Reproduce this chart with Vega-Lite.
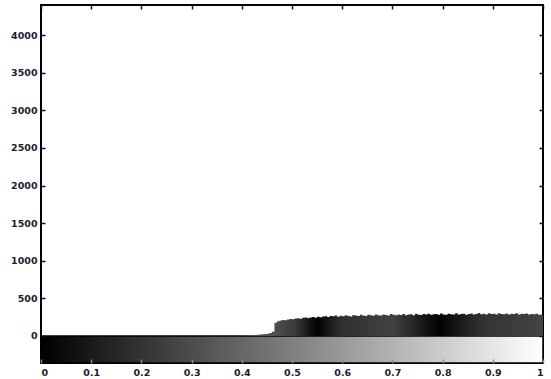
{
  "$schema": "https://vega.github.io/schema/vega-lite/v6.json",
  "width": 502,
  "height": 358,
  "autosize": "none",
  "padding": {"left": 41, "top": 5, "right": 8, "bottom": 16},
  "background": "white",
  "config": {
    "view": {"stroke": "black", "strokeWidth": 2},
    "axis": {
      "grid": false,
      "domain": false,
      "labelFont": "DejaVu Sans",
      "labelFontSize": 9.5,
      "labelFontWeight": "bold",
      "labelColor": "#1c1c30",
      "title": null
    }
  },
  "layer": [
    {
      "data": {"values": [{}]},
      "mark": {
        "type": "rect",
        "color": {
          "gradient": "linear",
          "x1": 0, "y1": 0, "x2": 1, "y2": 0,
          "stops": [
            {"offset": 0, "color": "#000000"},
            {"offset": 1, "color": "#ffffff"}
          ]
        },
        "stroke": "black",
        "strokeWidth": 1.5
      },
      "encoding": {
        "x": {
          "datum": 0,
          "type": "quantitative",
          "scale": {"domain": [0, 1], "nice": false},
          "axis": {"orient": "bottom", "values": [0, 0.1, 0.2, 0.3, 0.4, 0.5, 0.6, 0.7, 0.8, 0.9, 1], "format": "~g", "labelPadding": 4, "ticks": true, "tickSize": 4, "offset": -4, "tickColor": "#888888", "tickWidth": 1.5, "zindex": 2}
        },
        "x2": {"datum": 1},
        "y": {
          "datum": -360,
          "type": "quantitative",
          "scale": {"domain": [-360, 4400], "nice": false, "zero": false},
          "axis": {"orient": "left", "values": [0, 500, 1000, 1500, 2000, 2500, 3000, 3500, 4000], "format": "d", "labelPadding": 4, "ticks": true, "tickSize": 4, "offset": -4, "tickColor": "#111111", "tickWidth": 1.5, "zindex": 2}
        },
        "y2": {"datum": 0}
      }
    },
    {
      "data": {"values": [
        {"x": 0.400, "count": 3}, {"x": 0.405, "count": 4}, {"x": 0.410, "count": 5}, {"x": 0.415, "count": 6},
        {"x": 0.420, "count": 8}, {"x": 0.425, "count": 10}, {"x": 0.430, "count": 14}, {"x": 0.435, "count": 18},
        {"x": 0.440, "count": 22}, {"x": 0.445, "count": 25}, {"x": 0.450, "count": 30}, {"x": 0.455, "count": 38},
        {"x": 0.460, "count": 55}, {"x": 0.465, "count": 175}, {"x": 0.470, "count": 195}, {"x": 0.475, "count": 205},
        {"x": 0.480, "count": 212}, {"x": 0.485, "count": 208}, {"x": 0.490, "count": 220}, {"x": 0.495, "count": 226},
        {"x": 0.500, "count": 222}, {"x": 0.505, "count": 232}, {"x": 0.510, "count": 236}, {"x": 0.515, "count": 228},
        {"x": 0.520, "count": 240}, {"x": 0.525, "count": 244}, {"x": 0.530, "count": 238}, {"x": 0.535, "count": 246},
        {"x": 0.540, "count": 250}, {"x": 0.545, "count": 242}, {"x": 0.550, "count": 255}, {"x": 0.555, "count": 248},
        {"x": 0.560, "count": 258}, {"x": 0.565, "count": 262}, {"x": 0.570, "count": 252}, {"x": 0.575, "count": 266},
        {"x": 0.580, "count": 260}, {"x": 0.585, "count": 270}, {"x": 0.590, "count": 256}, {"x": 0.595, "count": 268},
        {"x": 0.600, "count": 262}, {"x": 0.605, "count": 274}, {"x": 0.610, "count": 266}, {"x": 0.615, "count": 258},
        {"x": 0.620, "count": 276}, {"x": 0.625, "count": 270}, {"x": 0.630, "count": 264}, {"x": 0.635, "count": 280},
        {"x": 0.640, "count": 272}, {"x": 0.645, "count": 266}, {"x": 0.650, "count": 282}, {"x": 0.655, "count": 274},
        {"x": 0.660, "count": 268}, {"x": 0.665, "count": 284}, {"x": 0.670, "count": 276}, {"x": 0.675, "count": 270},
        {"x": 0.680, "count": 286}, {"x": 0.685, "count": 278}, {"x": 0.690, "count": 272}, {"x": 0.695, "count": 290},
        {"x": 0.700, "count": 280}, {"x": 0.705, "count": 274}, {"x": 0.710, "count": 286}, {"x": 0.715, "count": 278},
        {"x": 0.720, "count": 292}, {"x": 0.725, "count": 276}, {"x": 0.730, "count": 284}, {"x": 0.735, "count": 288},
        {"x": 0.740, "count": 274}, {"x": 0.745, "count": 294}, {"x": 0.750, "count": 282}, {"x": 0.755, "count": 278},
        {"x": 0.760, "count": 290}, {"x": 0.765, "count": 284}, {"x": 0.770, "count": 296}, {"x": 0.775, "count": 280},
        {"x": 0.780, "count": 288}, {"x": 0.785, "count": 292}, {"x": 0.790, "count": 282}, {"x": 0.795, "count": 298},
        {"x": 0.800, "count": 286}, {"x": 0.805, "count": 280}, {"x": 0.810, "count": 294}, {"x": 0.815, "count": 288},
        {"x": 0.820, "count": 284}, {"x": 0.825, "count": 300}, {"x": 0.830, "count": 286}, {"x": 0.835, "count": 290},
        {"x": 0.840, "count": 296}, {"x": 0.845, "count": 282}, {"x": 0.850, "count": 292}, {"x": 0.855, "count": 298},
        {"x": 0.860, "count": 286}, {"x": 0.865, "count": 290}, {"x": 0.870, "count": 304}, {"x": 0.875, "count": 288},
        {"x": 0.880, "count": 294}, {"x": 0.885, "count": 284}, {"x": 0.890, "count": 300}, {"x": 0.895, "count": 290},
        {"x": 0.900, "count": 296}, {"x": 0.905, "count": 286}, {"x": 0.910, "count": 302}, {"x": 0.915, "count": 292},
        {"x": 0.920, "count": 288}, {"x": 0.925, "count": 298}, {"x": 0.930, "count": 284}, {"x": 0.935, "count": 296},
        {"x": 0.940, "count": 290}, {"x": 0.945, "count": 302}, {"x": 0.950, "count": 286}, {"x": 0.955, "count": 294},
        {"x": 0.960, "count": 290}, {"x": 0.965, "count": 298}, {"x": 0.970, "count": 284}, {"x": 0.975, "count": 292},
        {"x": 0.980, "count": 288}, {"x": 0.985, "count": 296}, {"x": 0.990, "count": 280}, {"x": 0.995, "count": 286},
        {"x": 1.000, "count": 286}
      ]},
      "mark": {
        "type": "area",
        "interpolate": "step-after",
        "color": {
          "gradient": "linear",
          "x1": 0, "y1": 0, "x2": 1, "y2": 0,
          "stops": [
            {"offset": 0, "color": "#555555"},
            {"offset": 0.108, "color": "#505050"},
            {"offset": 0.175, "color": "#3a3a3a"},
            {"offset": 0.25, "color": "#030303"},
            {"offset": 0.333, "color": "#303030"},
            {"offset": 0.5, "color": "#424242"},
            {"offset": 0.655, "color": "#030303"},
            {"offset": 0.8, "color": "#333333"},
            {"offset": 1, "color": "#444444"}
          ]
        }
      },
      "encoding": {
        "x": {
          "field": "x",
          "type": "quantitative",
          "scale": {"domain": [0, 1], "nice": false},
          "axis": {"orient": "top", "labels": false, "values": [0, 0.1, 0.2, 0.3, 0.4, 0.5, 0.6, 0.7, 0.8, 0.9, 1], "ticks": true, "tickSize": 4, "offset": -4, "tickColor": "#111111", "tickWidth": 1.5, "zindex": 2}
        },
        "y": {
          "field": "count",
          "type": "quantitative",
          "scale": {"domain": [-360, 4400], "nice": false, "zero": false},
          "axis": {"orient": "right", "labels": false, "values": [0, 500, 1000, 1500, 2000, 2500, 3000, 3500, 4000], "ticks": true, "tickSize": 4, "offset": -4, "tickColor": "#111111", "tickWidth": 1.5, "zindex": 2}
        }
      }
    }
  ],
  "resolve": {"axis": {"x": "independent", "y": "independent"}}
}
